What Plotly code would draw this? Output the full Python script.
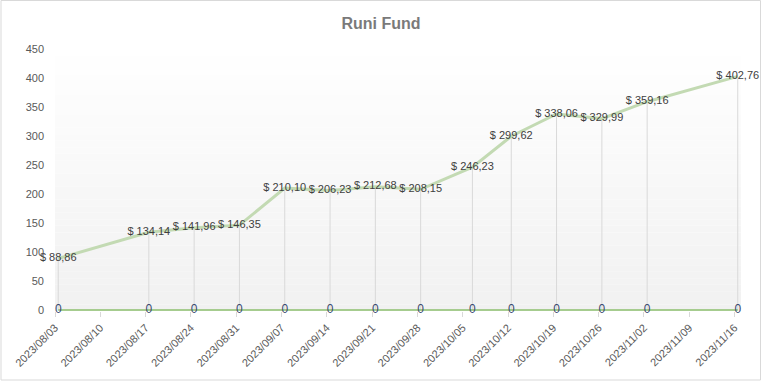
import plotly.graph_objects as go
import pandas as pd

# ---- data ----
dates = ["2023-08-03", "2023-08-17", "2023-08-24", "2023-08-31", "2023-09-07",
         "2023-09-14", "2023-09-21", "2023-09-28", "2023-10-06", "2023-10-12",
         "2023-10-19", "2023-10-26", "2023-11-02", "2023-11-16"]
fund_values = [88.86, 134.14, 141.96, 146.35, 210.10, 206.23, 212.68, 208.15,
               246.23, 299.62, 338.06, 329.99, 359.16, 402.76]
zero_values = [0] * len(dates)

# Excel date axis plots points at mid-day
xs = [pd.Timestamp(d) + pd.Timedelta(hours=12) for d in dates]
labels = ["$ " + f"{v:.2f}".replace(".", ",") for v in fund_values]

W, H = 762, 381
ML, MR, MT, MB = 55, 21, 49, 70
PW, PH = W - ML - MR, H - MT - MB

fig = go.Figure()

# drop lines
dx, dy = [], []
for x, v in zip(xs, fund_values):
    dx += [x, x, None]
    dy += [v, 0, None]
fig.add_trace(go.Scatter(x=dx, y=dy, mode="lines",
                         line=dict(color="#d9d9d9", width=1),
                         hoverinfo="skip", showlegend=False))

# zero series
fig.add_trace(go.Scatter(x=xs, y=zero_values, mode="lines+text",
                         line=dict(color="#8dbf6e", width=1.5),
                         text=[str(v) for v in zero_values],
                         textposition="middle center", cliponaxis=False,
                         textfont=dict(family="Liberation Sans", size=12, color="#3a4a70"),
                         showlegend=False))

# fund series
fig.add_trace(go.Scatter(x=xs, y=fund_values, mode="lines+text",
                         line=dict(color="#c3dab3", width=3),
                         text=labels, textposition="middle center", cliponaxis=False,
                         textfont=dict(family="Liberation Sans", size=11, color="#404040"),
                         showlegend=False))

# gradient background of plot area
shapes = []
N = 40
for i in range(N):
    t = (i + 0.5) / N  # 0 bottom -> 1 top
    c = int(round(241 + (255 - 241) * t))
    shapes.append(dict(type="rect", xref="paper", yref="paper",
                       x0=0, x1=1, y0=i / N, y1=(i + 1) / N,
                       fillcolor=f"rgb({c},{c},{c})", line=dict(width=0),
                       layer="below"))
# outer border
shapes.append(dict(type="rect", xref="paper", yref="paper",
                   x0=(1 - ML) / PW, x1=(760.5 - ML) / PW,
                   y0=-(MB - 1) / PH, y1=1 + (MT - 0.5) / PH,
                   line=dict(color="#d9d9d9", width=1), fillcolor="rgba(0,0,0,0)"))

fig.update_layout(
    width=W, height=H,
    margin=dict(l=ML, r=MR, t=MT, b=MB),
    paper_bgcolor="white", plot_bgcolor="rgba(0,0,0,0)",
    shapes=shapes,
    title=dict(text="<b>Runi Fund</b>", x=0.5, xanchor="center",
               y=1 - 23 / H, yanchor="middle", yref="container",
               font=dict(family="Liberation Sans", size=16, color="#7a7a7a")),
    xaxis=dict(type="date", range=["2023-08-03", "2023-11-17"],
               tick0="2023-08-03", dtick=7 * 86400000, tickformat="%Y/%m/%d",
               tickangle=-45, ticks="outside", ticklen=5, tickcolor="#d9d9d9",
               showgrid=False, showline=False, zeroline=False,
               tickfont=dict(family="Liberation Sans", size=11, color="#595959")),
    yaxis=dict(range=[-1.7, 450], dtick=50, showgrid=False, zeroline=False,
               showline=False, ticks="", ticklabelstandoff=10,
               tickfont=dict(family="Liberation Sans", size=11, color="#595959")),
)

fig.write_html("out.html")
